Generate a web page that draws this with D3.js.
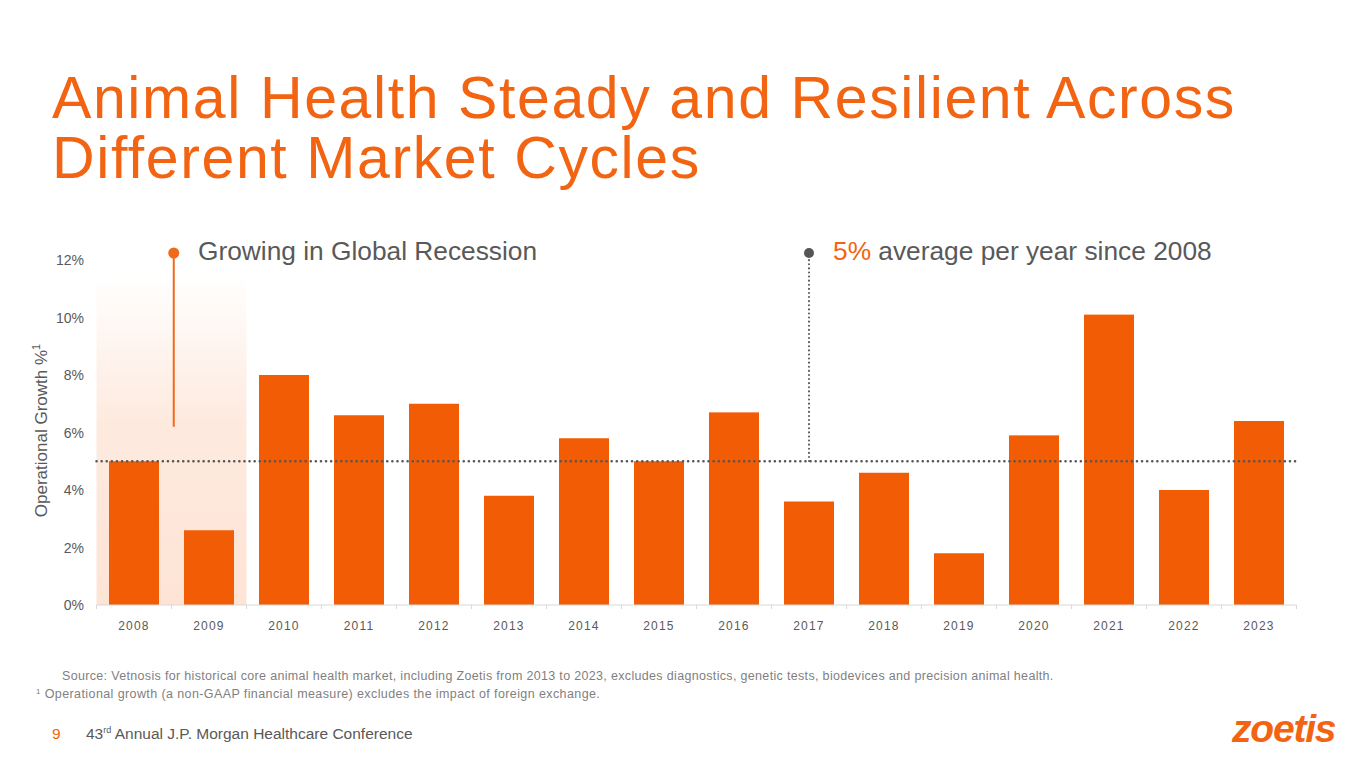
<!DOCTYPE html>
<html>
<head>
<meta charset="utf-8">
<script src="https://cdn.jsdelivr.net/npm/d3@7"></script>
<style>
  body { margin: 0; background: #fff; }
  text { font-family: "Liberation Sans", Arial, sans-serif; }
</style>
</head>
<body>
<div class="canvas"></div>
<script>
// chart data
const years = ["2008", "2009", "2010", "2011", "2012", "2013", "2014", "2015",
  "2016", "2017", "2018", "2019", "2020", "2021", "2022", "2023"];
const growth = [5.0, 2.6, 8.0, 6.6, 7.0, 3.8, 5.8, 5.0, 6.7, 3.6, 4.6, 1.8, 5.9, 10.1, 4.0, 6.4];
const yTicks = [0, 2, 4, 6, 8, 10, 12];
const average = 5;
const recessionYears = ["2008", "2009"];

const width = 1365;
const height = 768;
const orange = "#f25c05";
const grey = "#595959";

const svg = d3
  .select(".canvas")
  .append("svg")
  .attr("width", width)
  .attr("height", height);

const defs = svg.append("defs");
const grad = defs
  .append("linearGradient")
  .attr("id", "recession")
  .attr("x1", 0).attr("y1", 0)
  .attr("x2", 0).attr("y2", 1);
grad.append("stop").attr("offset", "0%").attr("stop-color", "#fde6d9").attr("stop-opacity", 0);
grad.append("stop").attr("offset", "45%").attr("stop-color", "#fde6d9").attr("stop-opacity", 0.85);
grad.append("stop").attr("offset", "100%").attr("stop-color", "#fde4d5").attr("stop-opacity", 1);

// title
const title = svg.append("text")
  .attr("x", 52)
  .attr("fill", "#f26412")
  .attr("font-size", 59)
  .attr("letter-spacing", 1.6);
title.append("tspan").attr("x", 52).attr("y", 118).text("Animal Health Steady and Resilient Across");
title.append("tspan").attr("x", 52).attr("y", 178).text("Different Market Cycles");

// scales
const x = d3.scaleBand()
  .domain(years)
  .range([96.5, 1296.5])
  .paddingInner(1 / 3)
  .paddingOuter(1 / 6);

const y = d3.scaleLinear()
  .domain([0, 12])
  .range([605, 260]);

const graph = svg.append("g");

// recession highlight
graph.append("rect")
  .attr("x", x.range()[0])
  .attr("y", y(11.5))
  .attr("width", x.step() * recessionYears.length)
  .attr("height", y(0) - y(11.5))
  .attr("fill", "url(#recession)");

// y axis labels
graph.selectAll(".ytick")
  .data(yTicks)
  .enter()
  .append("text")
  .attr("class", "ytick")
  .attr("x", 84)
  .attr("y", d => y(d) + 5)
  .attr("text-anchor", "end")
  .attr("fill", grey)
  .attr("font-size", 14)
  .text(d => d + "%");

const yTitle = graph.append("text")
  .attr("transform", "translate(47," + (y(6) - 2) + ") rotate(-90)")
  .attr("text-anchor", "middle")
  .attr("fill", grey)
  .attr("font-size", 17);
yTitle.append("tspan").text("Operational Growth %");
yTitle.append("tspan").attr("font-size", 11).attr("dy", -7).text("1");

// bars
graph.selectAll(".bar")
  .data(growth)
  .enter()
  .append("rect")
  .attr("class", "bar")
  .attr("x", (d, i) => x(years[i]))
  .attr("y", d => y(d))
  .attr("width", x.bandwidth())
  .attr("height", d => y(0) - y(d))
  .attr("fill", orange);

// x axis
const xAxis = graph.append("g")
  .attr("transform", "translate(0," + y(0) + ")");
xAxis.append("line")
  .attr("x1", x.range()[0])
  .attr("x2", x.range()[1])
  .attr("stroke", "#d9d9d9")
  .attr("stroke-width", 1);
xAxis.selectAll(".sep")
  .data(years.concat(["end"]))
  .enter()
  .append("line")
  .attr("x1", (d, i) => x.range()[0] + i * x.step())
  .attr("x2", (d, i) => x.range()[0] + i * x.step())
  .attr("y1", 0)
  .attr("y2", 4)
  .attr("stroke", "#d9d9d9");
xAxis.selectAll(".xlabel")
  .data(years)
  .enter()
  .append("text")
  .attr("x", d => x(d) + x.bandwidth() / 2)
  .attr("y", 25)
  .attr("text-anchor", "middle")
  .attr("fill", grey)
  .attr("font-size", 12)
  .attr("letter-spacing", 1.2)
  .text(d => d);

// average line
graph.append("line")
  .attr("x1", x.range()[0])
  .attr("x2", x.range()[1])
  .attr("y1", y(average))
  .attr("y2", y(average))
  .attr("stroke", "#555")
  .attr("stroke-width", 2.5)
  .attr("stroke-dasharray", "0.1 5")
  .attr("stroke-linecap", "round");

// recession callout
const calloutX = x.range()[0] + x.step() * 1.03;
graph.append("line")
  .attr("x1", calloutX).attr("x2", calloutX)
  .attr("y1", 253).attr("y2", y(6.2))
  .attr("stroke", "#ef6a1a")
  .attr("stroke-width", 2);
graph.append("circle")
  .attr("cx", calloutX).attr("cy", 253).attr("r", 5.5)
  .attr("fill", "#ef6a1a");
graph.append("text")
  .attr("x", 198).attr("y", 260)
  .attr("fill", grey)
  .attr("font-size", 26.3)
  .text("Growing in Global Recession");

// average callout
const avgX = 809;
graph.append("line")
  .attr("x1", avgX).attr("x2", avgX)
  .attr("y1", 256).attr("y2", y(average))
  .attr("stroke", "#555")
  .attr("stroke-width", 2)
  .attr("stroke-dasharray", "0.1 4")
  .attr("stroke-linecap", "round");
graph.append("circle")
  .attr("cx", avgX).attr("cy", 253).attr("r", 5)
  .attr("fill", "#555");
const avgText = graph.append("text")
  .attr("x", 833).attr("y", 260)
  .attr("font-size", 26.3);
avgText.append("tspan").attr("fill", "#f26412").text(average + "%");
avgText.append("tspan").attr("fill", grey).text(" average per year since 2008");

// footnotes
svg.append("text")
  .attr("x", 62).attr("y", 680)
  .attr("fill", "#7f7f7f")
  .attr("font-size", 12.5)
  .attr("letter-spacing", 0.33)
  .text("Source: Vetnosis for historical core animal health market, including Zoetis from 2013 to 2023, excludes diagnostics, genetic tests, biodevices and precision animal health.");
const note = svg.append("text")
  .attr("x", 36).attr("y", 698)
  .attr("fill", "#7f7f7f")
  .attr("font-size", 12.5)
  .attr("letter-spacing", 0.4);
note.append("tspan").attr("font-size", 8).attr("dy", -4).text("1");
note.append("tspan").attr("dy", 4).text(" Operational growth (a non-GAAP financial measure) excludes the impact of foreign exchange.");

// footer
svg.append("text")
  .attr("x", 52).attr("y", 739)
  .attr("fill", "#f26412")
  .attr("font-size", 15.5)
  .text("9");
const footer = svg.append("text")
  .attr("x", 86).attr("y", 739)
  .attr("fill", grey)
  .attr("font-size", 15.5);
footer.append("tspan").text("43");
footer.append("tspan").attr("font-size", 9).attr("dy", -6).text("rd");
footer.append("tspan").attr("dy", 6).text(" Annual J.P. Morgan Healthcare Conference");

// logo
svg.append("text")
  .attr("x", 1232).attr("y", 742)
  .attr("fill", "#f26412")
  .attr("font-size", 39)
  .attr("font-weight", "bold")
  .attr("font-style", "italic")
  .attr("letter-spacing", -1.2)
  .text("zoetis");
</script>
</body>
</html>
